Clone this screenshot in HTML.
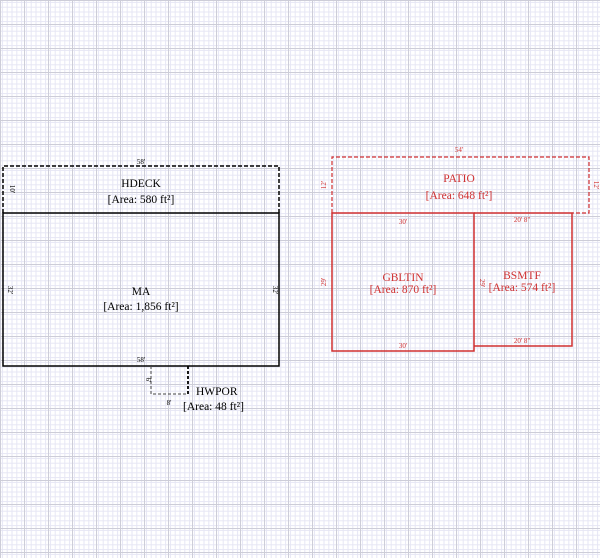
<!DOCTYPE html>
<html><head><meta charset="utf-8"><style>
body{margin:0;width:600px;height:558px;overflow:hidden;background:#fff}
svg{display:block}
text{font-family:"Liberation Serif",serif}
</style></head><body>
<svg width="600" height="558" xmlns="http://www.w3.org/2000/svg">
<defs>
<pattern id="g" x="0" y="0" width="4.8" height="4.8" patternUnits="userSpaceOnUse">
<path d="M2.4 0V4.8M0 2.4H4.8" stroke="#e6e6f4" stroke-width="1" fill="none"/>
</pattern>
<pattern id="G" x="0" y="0" width="24" height="24" patternUnits="userSpaceOnUse">
<path d="M0.5 0V24M0 0.5H24" stroke="#cdcdd8" stroke-width="1" fill="none"/>
</pattern>
</defs>
<rect width="600" height="558" fill="url(#g)"/>
<rect width="600" height="558" fill="url(#G)"/>

<!-- HDECK -->
<path d="M3 213V166H279V213" fill="none" stroke="#000" stroke-width="1.5" stroke-dasharray="4,2"/>
<text x="141" y="164" font-size="7" text-anchor="middle">58'</text>
<text x="10" y="189" font-size="7" text-anchor="middle" transform="rotate(90 10 189)">10'</text>
<text x="141" y="187" font-size="11.5" text-anchor="middle">HDECK</text>
<text x="141" y="203" font-size="11.5" text-anchor="middle">[Area: 580 ft²]</text>

<!-- MA -->
<rect x="3" y="213" width="276" height="153" fill="none" stroke="#000" stroke-width="1.5"/>
<text x="141" y="295" font-size="11.5" text-anchor="middle">MA</text>
<text x="141" y="310" font-size="11.5" text-anchor="middle">[Area: 1,856 ft²]</text>
<text x="8" y="290" font-size="7" text-anchor="middle" transform="rotate(90 8 290)">32'</text>
<text x="273" y="290" font-size="7" text-anchor="middle" transform="rotate(90 273 290)">32'</text>
<text x="141" y="362" font-size="7" text-anchor="middle">58'</text>

<!-- HWPOR -->
<path d="M151 366V394H188" fill="none" stroke="#444" stroke-width="1" stroke-dasharray="3,2"/>
<path d="M188 366V394" fill="none" stroke="#000" stroke-width="1.8" stroke-dasharray="3,2"/>
<text x="146" y="380" font-size="7" text-anchor="middle" transform="rotate(90 146 380)">6'</text>
<text x="169" y="405" font-size="7" text-anchor="middle">8'</text>
<text x="196" y="395" font-size="11.5">HWPOR</text>
<text x="183" y="410" font-size="11.5">[Area: 48 ft²]</text>

<!-- PATIO -->
<path d="M332 213V157H589V213H572" fill="none" stroke="#d03030" stroke-width="1.2" stroke-dasharray="4,2"/>
<text x="459" y="152" font-size="7" fill="#d03030" text-anchor="middle">54'</text>
<text x="326" y="185" font-size="7" fill="#d03030" text-anchor="middle" transform="rotate(-90 326 185)">12'</text>
<text x="594" y="185" font-size="7" fill="#d03030" text-anchor="middle" transform="rotate(90 594 185)">12'</text>
<text x="459" y="182" font-size="11.5" fill="#d03030" text-anchor="middle">PATIO</text>
<text x="459" y="199" font-size="11.5" fill="#d03030" text-anchor="middle">[Area: 648 ft²]</text>

<!-- GBLTIN -->
<rect x="332" y="213" width="142" height="138" fill="none" stroke="#d03030" stroke-width="1.5"/>
<text x="403" y="224" font-size="7" fill="#d03030" text-anchor="middle">30'</text>
<text x="403" y="348" font-size="7" fill="#d03030" text-anchor="middle">30'</text>
<text x="326" y="282" font-size="7" fill="#d03030" text-anchor="middle" transform="rotate(-90 326 282)">29'</text>
<text x="403" y="281" font-size="11.5" fill="#d03030" text-anchor="middle">GBLTIN</text>
<text x="403" y="293" font-size="11.5" fill="#d03030" text-anchor="middle">[Area: 870 ft²]</text>

<!-- BSMTF -->
<path d="M474 213H572V346H474" fill="none" stroke="#d03030" stroke-width="1.5"/>
<text x="522" y="222" font-size="7" fill="#d03030" text-anchor="middle">20' 8"</text>
<text x="522" y="343" font-size="7" fill="#d03030" text-anchor="middle">20' 8"</text>
<text x="480" y="283" font-size="7" fill="#d03030" text-anchor="middle" transform="rotate(90 480 283)">29'</text>
<text x="522" y="279" font-size="11.5" fill="#d03030" text-anchor="middle">BSMTF</text>
<text x="522" y="291" font-size="11.5" fill="#d03030" text-anchor="middle">[Area: 574 ft²]</text>
</svg>
</body></html>
